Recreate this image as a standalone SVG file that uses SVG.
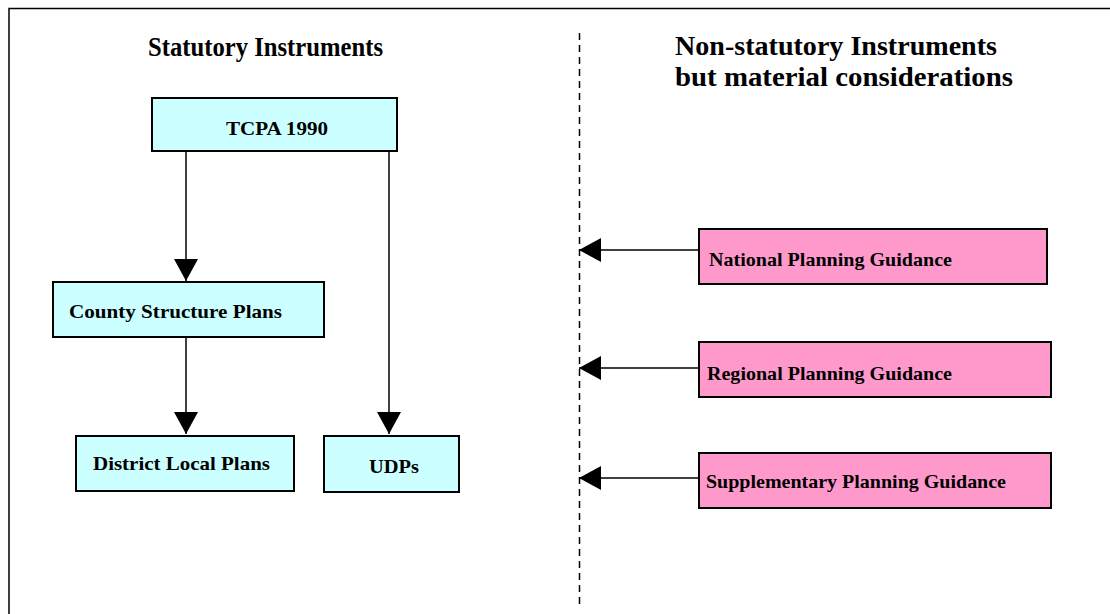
<svg xmlns="http://www.w3.org/2000/svg" width="1110" height="614" viewBox="0 0 1110 614">
  <style>
    .title { font-family: "Liberation Serif", "Times New Roman", serif; font-weight: bold; font-size: 27.5px; fill: #000; }
    .label { font-family: "Liberation Serif", "Times New Roman", serif; font-weight: bold; font-size: 19.5px; fill: #000; }
    .stat { fill: #CCFFFF; stroke: #000; stroke-width: 2; }
    .guide { fill: #FF99CC; stroke: #000; stroke-width: 2; }
    .conn { stroke: #000; stroke-width: 1.5; fill: none; marker-end: url(#arrow); }
  </style>
  <defs>
    <marker id="arrow" markerUnits="userSpaceOnUse" markerWidth="24" markerHeight="24" viewBox="0 0 22 24" refX="22" refY="12" orient="auto">
      <path d="M0,0 L22,12 L0,24 Z" fill="#000"/>
    </marker>
  </defs>
  <rect width="1110" height="614" fill="#fff"/>

  <!-- outer frame -->
  <path d="M9,614 L9,8.5 L1110,8.5" fill="none" stroke="#000" stroke-width="1.5"/>

  <!-- divider between statutory and non-statutory sides -->
  <line x1="579.5" y1="33" x2="579.5" y2="605" stroke="#000" stroke-width="1.5" stroke-dasharray="7,5"/>

  <!-- headings -->
  <text class="title" x="148" y="56" textLength="235" lengthAdjust="spacingAndGlyphs">Statutory Instruments</text>
  <text class="title" x="675" y="55" textLength="322" lengthAdjust="spacingAndGlyphs">Non-statutory Instruments</text>
  <text class="title" x="675" y="86" textLength="338" lengthAdjust="spacingAndGlyphs">but material considerations</text>

  <g id="connectors">
    <line class="conn" x1="186" y1="151" x2="186" y2="281"/>
    <line class="conn" x1="389" y1="151" x2="389" y2="434"/>
    <line class="conn" x1="186" y1="337" x2="186" y2="434"/>
    <line class="conn" x1="699" y1="250" x2="579" y2="250"/>
    <line class="conn" x1="699" y1="368" x2="579" y2="368"/>
    <line class="conn" x1="699" y1="478" x2="579" y2="478"/>
  </g>

  <g id="tcpa">
    <rect class="stat" x="152" y="98" width="245" height="53"/>
    <text class="label" x="226" y="135" textLength="102" lengthAdjust="spacingAndGlyphs">TCPA 1990</text>
  </g>
  <g id="county">
    <rect class="stat" x="53" y="282" width="271" height="55"/>
    <text class="label" x="69" y="318" textLength="213" lengthAdjust="spacingAndGlyphs">County Structure Plans</text>
  </g>
  <g id="district">
    <rect class="stat" x="76" y="436" width="218" height="55"/>
    <text class="label" x="93" y="470" textLength="177" lengthAdjust="spacingAndGlyphs">District Local Plans</text>
  </g>
  <g id="udps">
    <rect class="stat" x="324" y="436" width="135" height="56"/>
    <text class="label" x="369" y="473" textLength="50" lengthAdjust="spacingAndGlyphs">UDPs</text>
  </g>
  <g id="national">
    <rect class="guide" x="699" y="229" width="348" height="55"/>
    <text class="label" x="709" y="266" textLength="243" lengthAdjust="spacingAndGlyphs">National Planning Guidance</text>
  </g>
  <g id="regional">
    <rect class="guide" x="699" y="342" width="352" height="55"/>
    <text class="label" x="707" y="380" textLength="245" lengthAdjust="spacingAndGlyphs">Regional Planning Guidance</text>
  </g>
  <g id="supplementary">
    <rect class="guide" x="699" y="453" width="352" height="55"/>
    <text class="label" x="706" y="488" textLength="300" lengthAdjust="spacingAndGlyphs">Supplementary Planning Guidance</text>
  </g>
</svg>
